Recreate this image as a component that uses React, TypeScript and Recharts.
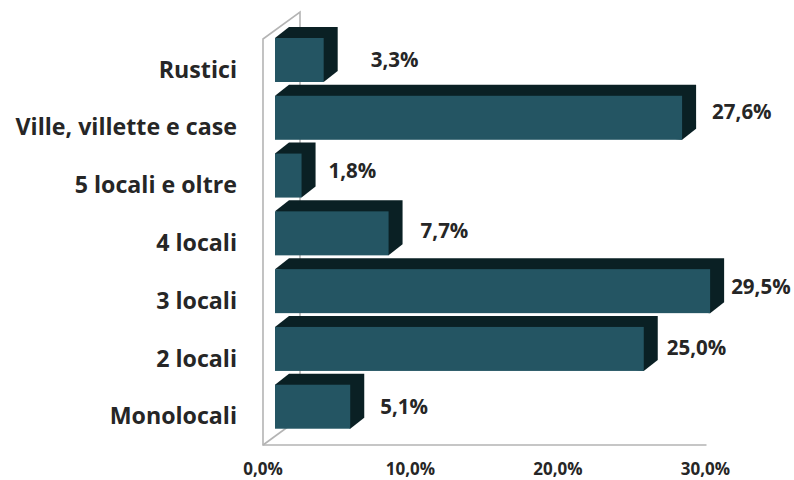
import React from 'react';
import { BarChart, Bar, XAxis, YAxis, LabelList, usePlotArea } from 'recharts';

const categories = ['Rustici', 'Ville, villette e case', '5 locali e oltre', '4 locali', '3 locali', '2 locali', 'Monolocali'];
const shares = [3.3, 27.6, 1.8, 7.7, 29.5, 25.0, 5.1];
const xTicks = [0, 10, 20, 30];
// hand-placed data labels in the original, gap after the bar and shift from its middle
const labelGap = [47, 30, 27, 32, 21, 23, 30];
const labelShift = [2, -4, -3, -1, -3, 1, 2];

const data = categories.map((name, i) => ({ name, share: shares[i] }));

const FONT = '"Open Sans", sans-serif';
const TEXT = '#262626';
const FRONT = '#245563';
const DARK = '#0a2024';
const WALL = '#b4b4b4';
const DEPTH_X = 14;
const DEPTH_Y = 11;

const fmt = (v: number, digits = 1) => `${v.toFixed(digits).replace('.', ',')}%`;

// grey wall and floor of the 3D box, taken from the plot area
const Frame = () => {
  const plot = usePlotArea();
  if (!plot) return null;
  const left = plot.x - 12;
  const bottom = plot.y + plot.height + 9.5;
  const right = plot.x + plot.width - 11;
  const backX = left + 37;
  const topFront = plot.y + 8;
  const topBack = plot.y - 19;
  const backBottom = bottom - 27;
  return (
    <g fill="none" stroke={WALL} strokeWidth={1.6}>
      <polyline points={`${backX},${backBottom} ${backX},${topBack} ${left},${topFront} ${left},${bottom} ${right},${bottom}`} />
      <line x1={left} y1={bottom} x2={backX} y2={backBottom} />
    </g>
  );
};

const Bar3D = (props: any) => {
  const { x, y, width, height } = props;
  return (
    <g>
      <path
        d={`M${x},${y} L${x + DEPTH_X},${y - DEPTH_Y} H${x + width + DEPTH_X} V${y + height - DEPTH_Y} L${x + width},${y + height} Z`}
        fill={DARK}
      />
      <rect x={x} y={y} width={width} height={height} fill={FRONT} />
    </g>
  );
};

const CategoryTick = ({ x, y, payload }: any) => (
  <text x={x - 36} y={y + 11.5} textAnchor="end" dominantBaseline="middle" fontFamily={FONT} fontWeight={700} fontSize={23.2} fill={TEXT}>
    {payload.value}
  </text>
);

const ValueTick = ({ x, y, payload }: any) => (
  <text x={x - 12} y={y + 27} textAnchor="middle" dominantBaseline="middle" fontFamily={FONT} fontWeight={700} fontSize={17} fill={TEXT}>
    {fmt(payload.value)}
  </text>
);

const ValueLabel = ({ x, y, width, height, value, index }: any) => (
  <text
    x={x + width + labelGap[index]}
    y={y + height / 2 + labelShift[index]}
    dominantBaseline="middle"
    fontFamily={FONT}
    fontWeight={700}
    fontSize={20.5}
    fill={TEXT}
  >
    {fmt(value)}
  </text>
);

export default function App() {
  return (
    <div style={{ position: 'absolute', left: 0, top: 0, width: 794, height: 480, background: '#fff' }}>
      <BarChart
        width={794}
        height={480}
        data={data}
        layout="vertical"
        barSize={44}
        margin={{ top: 31, right: 76.5, bottom: 0, left: 0 }}
      >
        <Frame />
        <XAxis
          type="number"
          domain={[0, 30]}
          ticks={xTicks}
          axisLine={false}
          tickLine={false}
          tick={<ValueTick />}
          height={44.5}
          interval={0}
        />
        <YAxis
          type="category"
          dataKey="name"
          width={275}
          axisLine={false}
          tickLine={false}
          tickSize={0}
          tick={<CategoryTick />}
          interval={0}
        />
        <Bar dataKey="share" shape={<Bar3D />} isAnimationActive={false}>
          <LabelList dataKey="share" content={<ValueLabel />} />
        </Bar>
      </BarChart>
    </div>
  );
}
